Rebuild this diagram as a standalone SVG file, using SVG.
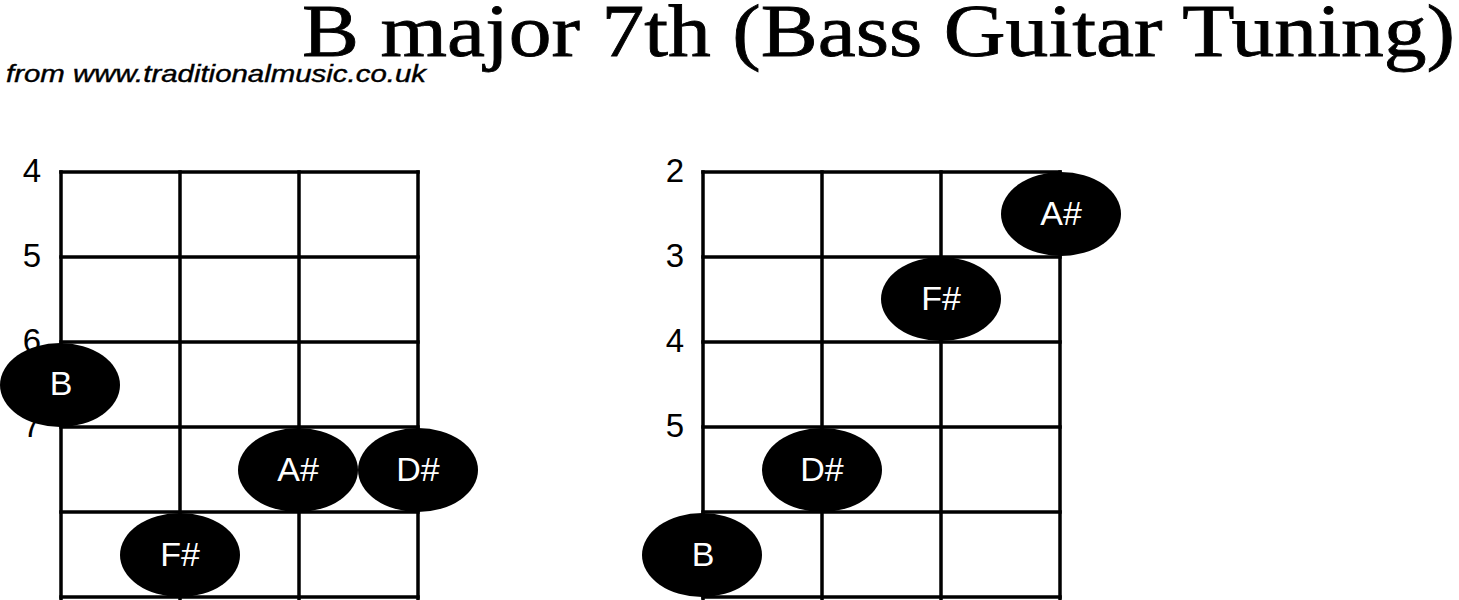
<svg xmlns="http://www.w3.org/2000/svg" width="1459" height="600" viewBox="0 0 1459 600">
<style>
.g line{stroke:#000;stroke-width:3.5;stroke-linecap:square}
.fn{font-family:"Liberation Sans",Arial,sans-serif;font-size:33px;fill:#000;text-anchor:middle}
.dot ellipse{fill:#000}
.dot text{font-family:"Liberation Sans",Arial,sans-serif;font-size:34px;fill:#fff;text-anchor:middle}
</style>
<rect width="1459" height="600" fill="#fff"/>
<text x="302" y="56" font-family="'Liberation Serif','Times New Roman',serif" font-size="75" stroke="#000" stroke-width="0.8" textLength="1153" lengthAdjust="spacingAndGlyphs">B major 7th (Bass Guitar Tuning)</text>
<text x="6" y="82" font-family="'Liberation Sans',Arial,sans-serif" font-style="italic" font-size="23" stroke="#000" stroke-width="0.4" textLength="420" lengthAdjust="spacingAndGlyphs">from www.traditionalmusic.co.uk</text>
<g id="grid-left" class="g">
<line x1="61" y1="172" x2="61" y2="600"/><line x1="180" y1="172" x2="180" y2="600"/><line x1="299" y1="172" x2="299" y2="600"/><line x1="418" y1="172" x2="418" y2="600"/>
<line x1="61" y1="172" x2="418" y2="172"/><line x1="61" y1="257" x2="418" y2="257"/><line x1="61" y1="342" x2="418" y2="342"/><line x1="61" y1="427" x2="418" y2="427"/><line x1="61" y1="512" x2="418" y2="512"/><line x1="61" y1="597" x2="418" y2="597"/>
</g>
<g id="frets-left" class="fn">
<text x="32" y="182">4</text><text x="32" y="267">5</text><text x="32" y="352">6</text><text x="32" y="437">7</text>
</g>
<g id="grid-right" class="g">
<line x1="703" y1="172" x2="703" y2="600"/><line x1="822" y1="172" x2="822" y2="600"/><line x1="941" y1="172" x2="941" y2="600"/><line x1="1060" y1="172" x2="1060" y2="600"/>
<line x1="703" y1="172" x2="1060" y2="172"/><line x1="703" y1="257" x2="1060" y2="257"/><line x1="703" y1="342" x2="1060" y2="342"/><line x1="703" y1="427" x2="1060" y2="427"/><line x1="703" y1="512" x2="1060" y2="512"/><line x1="703" y1="597" x2="1060" y2="597"/>
</g>
<g id="frets-right" class="fn">
<text x="675" y="182">2</text><text x="675" y="267">3</text><text x="675" y="352">4</text><text x="675" y="437">5</text>
</g>
<g id="l-B" class="dot"><ellipse cx="60" cy="385" rx="60" ry="42"/><text x="61" y="395">B</text></g>
<g id="l-As" class="dot"><ellipse cx="298" cy="470" rx="60" ry="42"/><text x="298" y="481">A#</text></g>
<g id="l-Ds" class="dot"><ellipse cx="418" cy="470" rx="60" ry="42"/><text x="418" y="481">D#</text></g>
<g id="l-Fs" class="dot"><ellipse cx="180" cy="555" rx="60" ry="42"/><text x="180" y="566">F#</text></g>
<g id="r-As" class="dot"><ellipse cx="1061" cy="214" rx="60" ry="42"/><text x="1061" y="225">A#</text></g>
<g id="r-Fs" class="dot"><ellipse cx="941" cy="299" rx="60" ry="42"/><text x="941" y="310">F#</text></g>
<g id="r-Ds" class="dot"><ellipse cx="822" cy="470" rx="60" ry="42"/><text x="822" y="481">D#</text></g>
<g id="r-B" class="dot"><ellipse cx="702" cy="555" rx="60" ry="42"/><text x="703" y="566">B</text></g>
</svg>
